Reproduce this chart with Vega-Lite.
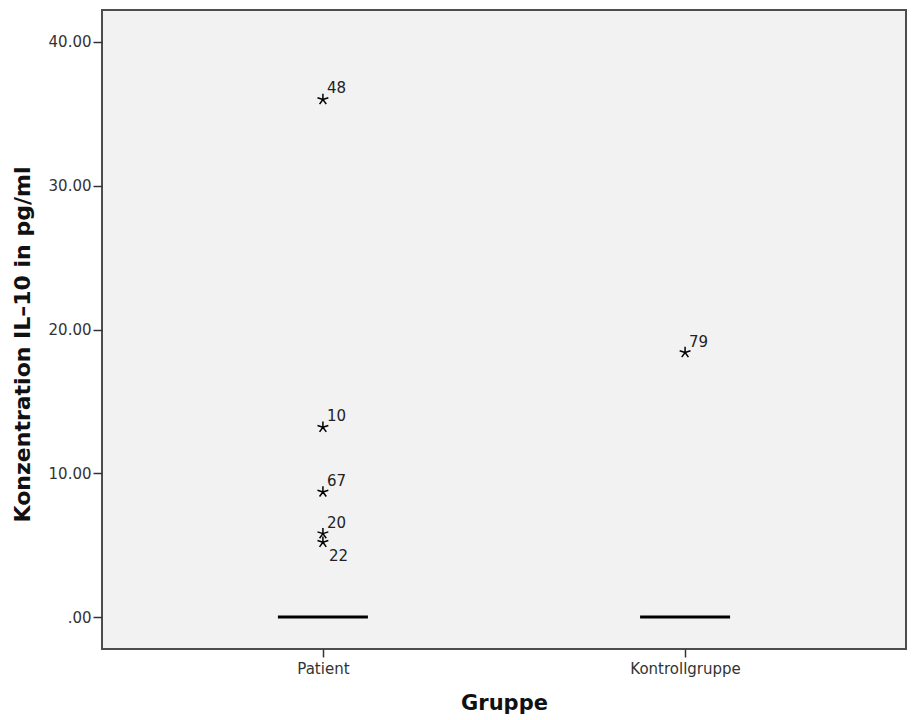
{
  "$schema": "https://vega.github.io/schema/vega-lite/v6.json",
  "autosize": {"type": "none"},
  "padding": {"left": 102, "top": 10, "right": 7, "bottom": 71},
  "width": 804,
  "height": 639,
  "background": "#ffffff",
  "config": {
    "view": {"fill": "#f2f2f2", "stroke": "#4d4d4d", "strokeWidth": 2},
    "font": "DejaVu Sans"
  },
  "datasets": {
    "boxes": [
      {"Gruppe": "Patient", "median": 0},
      {"Gruppe": "Kontrollgruppe", "median": 0}
    ],
    "outliers": [
      {"Gruppe": "Patient", "id": "48", "value": 36.0},
      {"Gruppe": "Patient", "id": "10", "value": 13.2},
      {"Gruppe": "Patient", "id": "67", "value": 8.7},
      {"Gruppe": "Patient", "id": "20", "value": 5.8},
      {"Gruppe": "Patient", "id": "22", "value": 5.2},
      {"Gruppe": "Kontrollgruppe", "id": "79", "value": 18.4}
    ]
  },
  "encoding": {
    "x": {
      "field": "Gruppe",
      "type": "nominal",
      "sort": ["Patient", "Kontrollgruppe"],
      "scale": {"type": "point", "padding": 0.61},
      "axis": {
        "title": "Gruppe",
        "labelAngle": 0,
        "labelFont": "DejaVu Sans",
        "labelFontSize": 15,
        "labelColor": "#333333",
        "labelPadding": 4,
        "tickSize": 8,
        "tickColor": "#333333",
        "tickWidth": 1.5,
        "domain": false,
        "titleFont": "DejaVu Sans",
        "titleFontSize": 21,
        "titleFontWeight": "bold",
        "titleColor": "#111111",
        "titleY": 54,
        "titleBaseline": "middle"
      }
    }
  },
  "layer": [
    {
      "data": {"name": "boxes"},
      "mark": {"type": "tick", "color": "#000000", "size": 90, "thickness": 3, "orient": "horizontal", "opacity": 1},
      "encoding": {
        "y": {
          "field": "median",
          "type": "quantitative",
          "scale": {"domain": [-2.226, 42.226], "nice": false, "zero": false},
          "axis": {
            "title": "Konzentration IL–10 in pg/ml",
            "values": [0, 10, 20, 30, 40],
            "labelExpr": "datum.value == 0 ? '.00' : format(datum.value, '.2f')",
            "grid": false,
            "domain": false,
            "labelFont": "DejaVu Sans",
            "labelFontSize": 15,
            "labelColor": "#333333",
            "labelPadding": 2,
            "tickSize": 9,
            "tickColor": "#333333",
            "tickWidth": 1.5,
            "titleFont": "DejaVu Sans",
            "titleFontSize": 22,
            "titleFontWeight": "bold",
            "titleColor": "#111111",
            "titleAngle": -90,
            "titleX": -80,
            "titleY": 334,
            "titleAlign": "center",
            "titleBaseline": "middle"
          }
        }
      }
    },
    {
      "data": {"name": "outliers"},
      "mark": {
        "type": "point",
        "shape": "M0,0L0,-1M0,0L0.951,-0.309M0,0L0.588,0.809M0,0L-0.588,0.809M0,0L-0.951,-0.309",
        "filled": false,
        "stroke": "#000000",
        "strokeWidth": 1.5,
        "size": 130,
        "opacity": 1
      },
      "encoding": {
        "y": {"field": "value", "type": "quantitative"}
      }
    },
    {
      "data": {"name": "outliers"},
      "transform": [{"filter": "datum.id != '22'"}],
      "mark": {"type": "text", "align": "left", "baseline": "alphabetic", "dx": 4, "dy": -6, "font": "DejaVu Sans", "fontSize": 15, "color": "#222222"},
      "encoding": {
        "y": {"field": "value", "type": "quantitative"},
        "text": {"field": "id"}
      }
    },
    {
      "data": {"name": "outliers"},
      "transform": [{"filter": "datum.id == '22'"}],
      "mark": {"type": "text", "align": "left", "baseline": "middle", "dx": 6, "dy": 14, "font": "DejaVu Sans", "fontSize": 15, "color": "#222222"},
      "encoding": {
        "y": {"field": "value", "type": "quantitative"},
        "text": {"field": "id"}
      }
    }
  ]
}
